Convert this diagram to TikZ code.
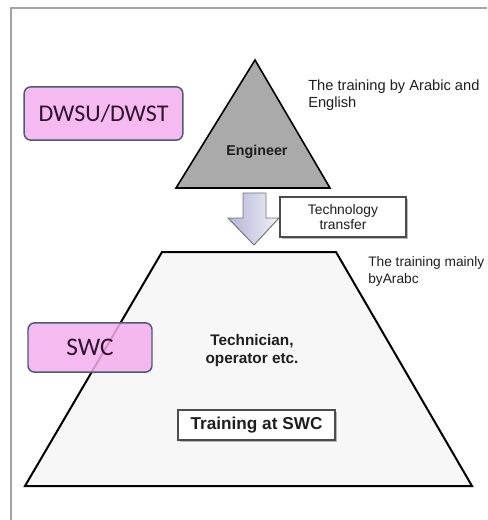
\documentclass[tikz,border=0pt]{standalone}
\usepackage{fontspec}
\setmainfont{Liberation Sans}
\newfontfamily\calfont{Carlito}
\usetikzlibrary{calc}
\usetikzlibrary{shadows}
\definecolor{LightPink}{HTML}{F4AEEE}
\definecolor{SlateBlue}{HTML}{4A5A78}
\definecolor{DarkPlum}{HTML}{2E1430}
\definecolor{MidGray}{HTML}{AAAAAA}
\definecolor{PaleGray}{HTML}{F7F7F7}
\definecolor{FrameGray}{HTML}{A4A4A4}
\definecolor{Lavender}{HTML}{B4B4D8}
\definecolor{InkGray}{HTML}{1E1E1E}
\tikzset{
  orgbox/.style={draw=SlateBlue, line width=1.1pt, rounded corners=5pt,
    fill=LightPink, fill opacity=0.85, text opacity=1, text=DarkPlum,
    inner sep=0pt},
  notebox/.style={draw=black!70, line width=0.8pt, fill=white, inner sep=0pt,
    drop shadow={shadow xshift=1.5pt, shadow yshift=-1.5pt, opacity=0.45, fill=black!60}},
  remark/.style={anchor=north west, align=left, inner sep=0pt, text=InkGray},
  level/.style={line width=1.5pt, line join=miter}
}

\begin{document}
\begin{tikzpicture}[x=0.75pt, y=-0.75pt]
  \useasboundingbox (0,0) rectangle (487,520);
  \fill[white] (0,0) rectangle (487,520);
  \draw[FrameGray, line width=0.8pt] (11,520) -- (11,8) -- (487,8);

  \coordinate (Apex)  at (255,60);
  \coordinate (BaseL) at (176,188);
  \coordinate (BaseR) at (330,188);
  \coordinate (TopL)  at (162,252);
  \coordinate (TopR)  at (336,252);
  \coordinate (BotR)  at (472,486);
  \coordinate (BotL)  at (25,486);

  \draw[level, fill=PaleGray] (TopL) -- (TopR) -- (BotR) -- (BotL) -- cycle;
  \draw[line width=1.2pt, fill=MidGray] (Apex) -- (BaseR) -- (BaseL) -- cycle;

  \shade[left color=Lavender, right color=Lavender!20, draw=black!55, line width=0.7pt]
    (243,193) -- (266,193) -- (266,218) -- (279,218) -- (254,245)
    -- (228,218) -- (243,218) -- cycle;

  \node[font=\fontsize{10.7}{12}\selectfont\bfseries, text=InkGray] (engineer) at (257,152) {Engineer};

  \node[orgbox, minimum width=119pt, minimum height=40pt,
    font=\calfont\fontsize{18}{20}\selectfont] (dwsu) at (103.5,113.5) {DWSU/DWST};
  \node[orgbox, minimum width=93pt, minimum height=37pt,
    font=\calfont\fontsize{19}{21}\selectfont] (swc) at (90,347.5) {SWC};

  \node[notebox, minimum width=94.5pt, minimum height=30pt, align=center,
    font=\fontsize{10.4}{11.25}\selectfont, text=InkGray] (transfer) at (343,217)
    {Technology\\transfer};
  \node[notebox, minimum width=117.75pt, minimum height=22.5pt,
    font=\fontsize{12.9}{14}\selectfont\bfseries, text=InkGray] (atswc) at (256.5,425)
    {Training at SWC};

  \node[align=center, font=\fontsize{11.5}{13.5}\selectfont\bfseries, text=InkGray]
    (staff) at (252,351) {Technician,\\operator etc.};

  \node[remark, font=\fontsize{11}{12.75}\selectfont] (upper) at (308,80)
    {The training by Arabic and\\English};
  \node[remark, font=\fontsize{10.3}{12.75}\selectfont] (lower) at (368,256)
    {The training mainly\\byArabc};
\end{tikzpicture}
\end{document}
